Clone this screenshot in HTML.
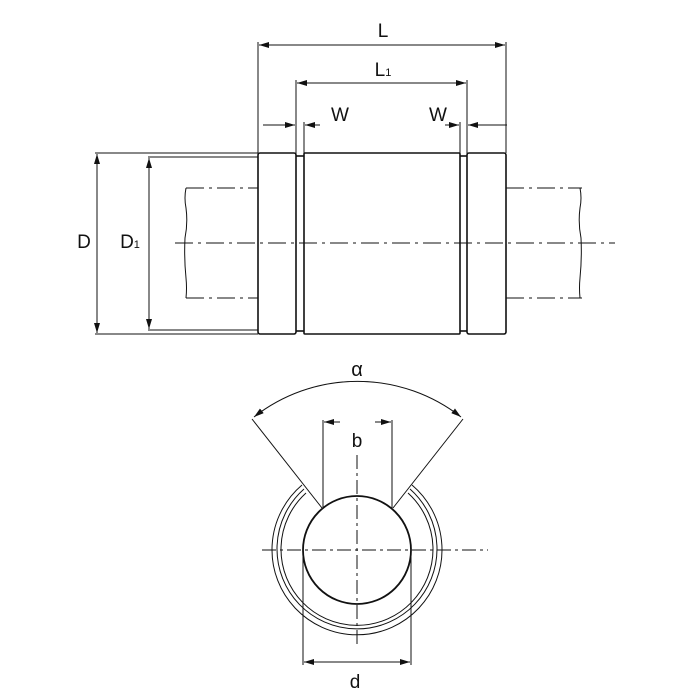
<!DOCTYPE html>
<html><head><meta charset="utf-8"><style>body{margin:0;background:#fff}svg{display:block}text{font-family:"Liberation Sans",sans-serif;fill:#111}</style></head><body>
<svg width="700" height="700" viewBox="0 0 700 700" xmlns="http://www.w3.org/2000/svg">
<defs><marker id="a" viewBox="0 0 10 6" refX="10" refY="3" markerWidth="10" markerHeight="6" orient="auto-start-reverse" markerUnits="userSpaceOnUse"><path d="M0,0L10,3L0,6z" fill="#111"/></marker></defs>
<g stroke="#111" fill="none" stroke-width="1">
<!-- L -->
<line x1="258" y1="42" x2="258" y2="153"/><line x1="506" y1="42" x2="506" y2="153"/>
<line x1="259" y1="45" x2="505" y2="45" marker-start="url(#a)" marker-end="url(#a)"/>
<line x1="296" y1="80" x2="296" y2="155"/><line x1="467" y1="80" x2="467" y2="155"/>
<line x1="297" y1="83" x2="466" y2="83" marker-start="url(#a)" marker-end="url(#a)"/>
<!-- W -->
<line x1="304" y1="122" x2="304" y2="155"/><line x1="460" y1="122" x2="460" y2="155"/>
<line x1="263" y1="125" x2="295" y2="125" marker-end="url(#a)"/>
<line x1="320" y1="125" x2="305" y2="125" marker-end="url(#a)"/>
<line x1="445" y1="125" x2="459" y2="125" marker-end="url(#a)"/>
<line x1="507" y1="125" x2="468" y2="125" marker-end="url(#a)"/>
<!-- body -->
<g stroke-width="1.6">
<rect x="258" y="153" width="38" height="181" rx="2"/>
<rect x="304" y="153" width="156" height="181" rx="1"/>
<rect x="467" y="153" width="39" height="181" rx="2"/>
<line x1="296" y1="156" x2="304" y2="156"/><line x1="296" y1="331" x2="304" y2="331"/>
<line x1="460" y1="156" x2="467" y2="156"/><line x1="460" y1="331" x2="467" y2="331"/>
</g>
<!-- D -->
<line x1="95" y1="153" x2="258" y2="153"/><line x1="95" y1="334" x2="258" y2="334"/>
<line x1="97" y1="154" x2="97" y2="333" marker-start="url(#a)" marker-end="url(#a)"/>
<line x1="148" y1="157" x2="258" y2="157"/><line x1="148" y1="330" x2="258" y2="330"/>
<line x1="149" y1="158" x2="149" y2="329" marker-start="url(#a)" marker-end="url(#a)"/>
<!-- shaft -->
<g stroke-dasharray="18,5,3,5">
<line x1="186" y1="188" x2="258" y2="188"/><line x1="186" y1="298" x2="258" y2="298"/>
<line x1="506" y1="188" x2="582" y2="188"/><line x1="506" y1="298" x2="582" y2="298"/>
<line x1="175" y1="243" x2="615" y2="243"/>
</g>
<path d="M186,188 q-2,10 0,20 q2,15 -1,30 q-1,20 1,40 q1,10 0,20"/>
<path d="M580,188 q2,10 0,20 q-2,15 1,30 q1,20 -1,40 q-1,10 0,20"/>
<!-- bottom view -->
<line x1="252" y1="419" x2="322" y2="508"/><line x1="463" y1="419" x2="393" y2="508"/>
<path d="M254,417 A168,168 0 0 1 461,417" marker-start="url(#a)" marker-end="url(#a)"/>
<line x1="323" y1="420" x2="323" y2="509"/><line x1="392" y1="420" x2="392" y2="509"/>
<line x1="340" y1="422" x2="324" y2="422" marker-end="url(#a)"/>
<line x1="375" y1="422" x2="391" y2="422" marker-end="url(#a)"/>
<path d="M302,485 A85,85 0 1 0 412,485"/>
<path d="M304,489 A80,80 0 1 0 410,489"/>
<path d="M306,493 A76,76 0 1 0 408,493"/>
<circle cx="357" cy="550" r="54" stroke-width="1.8"/>
<g stroke-dasharray="14,4,3,4">
<line x1="357" y1="455" x2="357" y2="645"/>
<line x1="262" y1="550" x2="488" y2="550"/>
</g>
<line x1="303" y1="555" x2="303" y2="665"/><line x1="411" y1="555" x2="411" y2="665"/>
<line x1="304" y1="662" x2="410" y2="662" marker-start="url(#a)" marker-end="url(#a)"/>
</g>
<text x="383" y="37" font-size="19" text-anchor="middle">L</text>
<text x="383" y="76" font-size="19" text-anchor="middle">L<tspan font-size="11">1</tspan></text>
<text x="340" y="121" font-size="19" text-anchor="middle">W</text>
<text x="438" y="121" font-size="19" text-anchor="middle">W</text>
<text x="84" y="248" font-size="19" text-anchor="middle">D</text>
<text x="130" y="248" font-size="19" text-anchor="middle">D<tspan font-size="11">1</tspan></text>
<text x="357" y="376" font-size="20" text-anchor="middle">α</text>
<text x="357" y="447" font-size="19" text-anchor="middle">b</text>
<text x="355" y="688" font-size="19" text-anchor="middle">d</text>
</svg>
</body></html>
